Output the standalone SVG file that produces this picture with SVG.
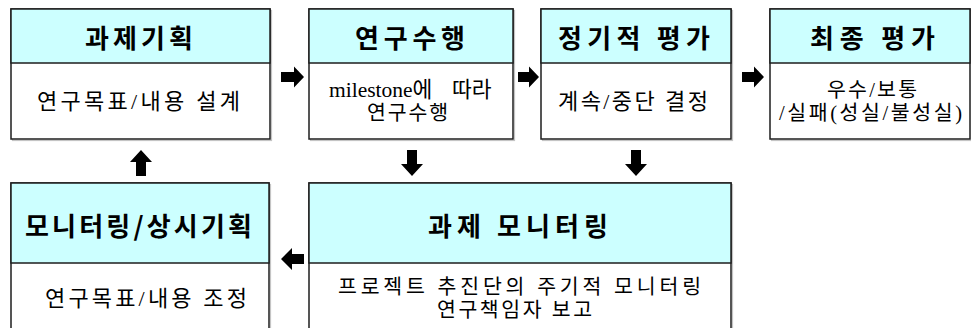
<svg xmlns="http://www.w3.org/2000/svg" width="971" height="328" viewBox="0 0 971 328">
<style>
.shadow{fill:none;stroke:#c4c4c4;stroke-width:1.2}
.box{fill:#ffffff;stroke:#1e1e1e;stroke-width:1.5}
.hdr{fill:#ccffff;stroke:#1e1e1e;stroke-width:1.5}
.h{font-family:"Noto Sans CJK KR","Liberation Sans",sans-serif;font-weight:bold;font-size:26px;fill:#000;text-anchor:middle}
.b{font-family:"Liberation Serif","Noto Sans CJK KR",serif;font-size:22px;fill:#000;text-anchor:middle}
.s{font-size:20.5px}
.arr{fill:#000}
</style>
<rect width="971" height="328" fill="#ffffff"/>

<g id="node-plan">
<rect class="shadow" x="12.5" y="10.5" width="259" height="130"/>
<rect class="box" x="11" y="9" width="259" height="130"/>
<rect class="hdr" x="11" y="9" width="259" height="54"/>
<text class="h" x="139" y="48" textLength="108" lengthAdjust="spacing">과제기획</text>
<text class="b" x="138.5" y="109" textLength="203" lengthAdjust="spacing">연구목표/내용 설계</text>
</g>

<g id="node-research">
<rect class="shadow" x="310.5" y="10.5" width="204" height="130"/>
<rect class="box" x="309" y="9" width="204" height="130"/>
<rect class="hdr" x="309" y="9" width="204" height="54"/>
<text class="h" x="410" y="48" textLength="110" lengthAdjust="spacing">연구수행</text>
<text class="b s" x="329" y="97" style="text-anchor:start;font-size:21.5px">milestone에<tspan x="452">따라</tspan></text>
<text class="b s" x="407.5" y="120" textLength="81" lengthAdjust="spacing">연구수행</text>
</g>

<g id="node-periodic">
<rect class="shadow" x="542.5" y="10.5" width="190" height="130"/>
<rect class="box" x="541" y="9" width="190" height="130"/>
<rect class="hdr" x="541" y="9" width="190" height="54"/>
<text class="h" x="634" y="48" textLength="152" lengthAdjust="spacing">정기적  평가</text>
<text class="b" x="633" y="109" textLength="150" lengthAdjust="spacing">계속/중단 결정</text>
</g>

<g id="node-final">
<rect class="shadow" x="771.5" y="10.5" width="200" height="130"/>
<rect class="box" x="770" y="9" width="200" height="130"/>
<rect class="hdr" x="770" y="9" width="200" height="54"/>
<text class="h" x="872.5" y="48" textLength="125" lengthAdjust="spacing">최종 평가</text>
<text class="b s" x="872" y="97" textLength="90" lengthAdjust="spacing">우수/보통</text>
<text class="b s" x="870.5" y="120" textLength="183" lengthAdjust="spacing">/실패(성실/불성실)</text>
</g>

<g id="node-monitor-plan">
<rect class="shadow" x="12.5" y="184.5" width="258" height="160"/>
<rect class="box" x="11" y="183" width="258" height="160"/>
<rect class="hdr" x="11" y="183" width="258" height="80"/>
<text class="h" x="138.5" y="236" textLength="227" lengthAdjust="spacing">모니터링/상시기획</text>
<text class="b" x="146" y="306" textLength="202" lengthAdjust="spacing">연구목표/내용 조정</text>
</g>

<g id="node-monitoring">
<rect class="shadow" x="310.5" y="184.5" width="422" height="160"/>
<rect class="box" x="309" y="183" width="422" height="160"/>
<rect class="hdr" x="309" y="183" width="422" height="80"/>
<text class="h" x="518" y="236" textLength="180" lengthAdjust="spacing">과제  모니터링</text>
<text class="b s" x="519.5" y="294" textLength="363" lengthAdjust="spacing">프로젝트 추진단의 주기적 모니터링</text>
<text class="b s" x="514.5" y="317" textLength="155" lengthAdjust="spacing">연구책임자 보고</text>
</g>

<g id="connectors">
<polygon class="arr" points="281,72 294,72 294,66.5 304,77 294,87.5 294,82 281,82"/>
<polygon class="arr" points="518,72 529,72 529,66.5 539,77 529,87.5 529,82 518,82"/>
<polygon class="arr" points="742,72 754,72 754,66.5 764,77 754,87.5 754,82 742,82"/>
<polygon class="arr" points="407,150 417,150 417,164 423,164 412,176 401,164 407,164"/>
<polygon class="arr" points="631,150 641,150 641,164 647,164 636,176 625,164 631,164"/>
<polygon class="arr" points="281,259 292,248 292,254 304,254 304,264 292,264 292,270"/>
<polygon class="arr" points="141,150 152,162 146,162 146,176 136,176 136,162 130,162"/>
</g>
</svg>
